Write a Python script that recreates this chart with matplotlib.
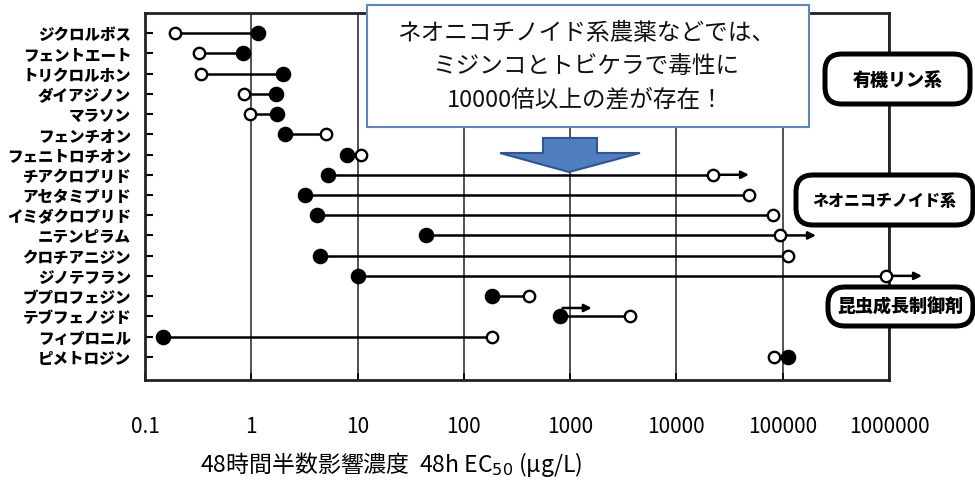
import numpy as np
import matplotlib
matplotlib.use('Agg')
import matplotlib.pyplot as plt
from matplotlib import font_manager
from matplotlib.patches import FancyBboxPatch, Polygon, Rectangle
from matplotlib.transforms import IdentityTransform, offset_copy

plt.rcParams['font.family'] = ['Noto Sans CJK JP', 'DejaVu Sans']
plt.rcParams['mathtext.fontset'] = 'dejavusans'

W, H = 975, 485

# ---- data ---------------------------------------------------------------
compounds = ['ジクロルボス', 'フェントエート', 'トリクロルホン', 'ダイアジノン',
             'マラソン', 'フェンチオン', 'フェニトロチオン', 'チアクロプリド',
             'アセタミプリド', 'イミダクロプリド', 'ニテンピラム', 'クロチアニジン',
             'ジノテフラン', 'ブプロフェジン', 'テブフェノジド', 'フィプロニル',
             'ピメトロジン']
# filled circles (insect) / open circles (water flea), 48h EC50 in ug/L
ec50_filled = [1.16, 0.84, 1.99, 1.71, 1.75, 2.07, 7.9, 5.3, 3.2, 4.15,
               44, 4.4, 10.1, 184, 800, 0.148, 112000]
ec50_open = [0.19, 0.32, 0.34, 0.85, 0.97, 5.0, 10.8, 22000, 48000, 81000,
             94000, 112000, 935000, 410, 3660, 184, 83000]
# values reported as "greater than"
open_lower_bound = ['チアクロプリド', 'ニテンピラム', 'ジノテフラン']
filled_lower_bound = ['テブフェノジド']

decades = [0.1, 1, 10, 100, 1000, 10000, 100000, 1000000]
decade_labels = ['0.1', '1', '10', '100', '1000', '10000', '100000', '1000000']

group_names = ['有機リン系', 'ネオニコチノイド系', '昆虫成長制御剤']
callout_lines = ['ネオニコチノイド系農薬などでは、',
                 'ミジンコとトビケラで毒性に',
                 '10000倍以上の差が存在！']
xlabel = '48時間半数影響濃度  48h EC$_{50}$ (μg/L)'


def fx(x):
    return x / W


def fy(y):
    return 1 - y / H


# narrow face for the decade labels if there is one
installed = {f.name for f in font_manager.fontManager.ttflist}
if 'Liberation Sans Narrow' in installed:
    tick_family, tick_size = ['Liberation Sans Narrow'], 15.5
else:
    tick_family, tick_size = ['Noto Sans CJK JP'], 15

# ---- figure -------------------------------------------------------------
fig = plt.figure(figsize=(W / 100, H / 100), dpi=100)
ax = fig.add_axes([fx(145), fy(381), (889 - 145) / W, (381 - 14) / H])

rows = np.arange(len(compounds))

for i in rows:
    ax.plot([ec50_filled[i], ec50_open[i]], [i, i], color='black',
            lw=1.8, zorder=3, solid_capstyle='butt')
ax.plot(ec50_open, rows, 'o', ms=8.2, mfc='white', mec='black', mew=1.7,
        zorder=4, clip_on=False)
ax.plot(ec50_filled, rows, 'o', ms=10.2, color='black', zorder=5,
        clip_on=False)

arrow_kw = dict(arrowstyle='<|-', color='black', lw=1.8, shrinkA=0,
                mutation_scale=11)
for name in open_lower_bound:
    i = compounds.index(name)
    ax.annotate('', xy=(ec50_open[i], i), xytext=(26, 0),
                textcoords='offset points', annotation_clip=False,
                arrowprops=dict(shrinkB=4.8, **arrow_kw))
for name in filled_lower_bound:
    i = compounds.index(name)
    shifted = offset_copy(ax.transData, fig=fig, x=2, y=6, units='points')
    ax.annotate('', xy=(ec50_filled[i], i), xycoords=shifted,
                xytext=(21, 0), textcoords='offset points',
                annotation_clip=False,
                arrowprops=dict(shrinkB=0, **arrow_kw))

ax.set_xscale('log')
ax.set_xlim(decades[0], decades[-1])
ax.set_ylim(17.15, -1.0)
ax.minorticks_off()
ax.set_xticks(decades, decade_labels)
ax.set_yticks(rows, compounds)
ax.grid(axis='x', color='#444444', lw=1.3)
ax.set_axisbelow(True)

ax.tick_params(axis='x', direction='in', length=5, width=1.2, pad=25,
               labelsize=tick_size, top=False)
ax.tick_params(axis='y', direction='in', length=6, width=1.5, pad=10,
               labelsize=11.2, right=False)
for lab in ax.get_xticklabels():
    lab.set_fontfamily(tick_family)
for lab in ax.get_yticklabels():
    lab.set_fontweight('heavy')
for sp in ax.spines.values():
    sp.set_linewidth(2.0)
    sp.set_color('#222222')

fig.text(fx(200), fy(465), xlabel, ha='left', va='center', fontsize=16.5)

# ---- group boxes --------------------------------------------------------
group_rects = [(825, 55, 970, 105), (796, 176, 973, 226), (828, 288, 973, 327)]
group_sizes = [13, 11.5, 13]
for name, (x0, y0, x1, y1), fs in zip(group_names, group_rects, group_sizes):
    box = FancyBboxPatch((x0, H - y1), x1 - x0, y1 - y0,
                         boxstyle='round,pad=0,rounding_size=17',
                         transform=IdentityTransform(), fc='white',
                         ec='black', lw=3.6, zorder=5)
    fig.add_artist(box)
    fig.text(fx((x0 + x1) / 2), fy((y0 + y1) / 2), name, ha='center',
             va='center', fontsize=fs, fontweight='heavy', zorder=6)

# ---- callout ------------------------------------------------------------
callout = Rectangle((367, H - 128), 809 - 367, 128 - 6,
                    transform=IdentityTransform(), fc='white',
                    ec='#5b87c7', lw=1.5, zorder=5)
fig.add_artist(callout)
for line, y in zip(callout_lines, [33, 67, 100]):
    fig.text(fx(586), fy(y), line, ha='center', va='center', fontsize=17,
             color='#111111', zorder=6)

arrow_pts = [(543, 139), (597, 139), (597, 154), (640, 154), (569, 173),
             (500, 154), (543, 154)]
block = Polygon([(x, H - y) for x, y in arrow_pts], closed=True,
                transform=IdentityTransform(), fc='#4f7fc0', ec='#2f5597',
                lw=1.5, zorder=5)
fig.add_artist(block)

fig.savefig('out.png', dpi=100)
